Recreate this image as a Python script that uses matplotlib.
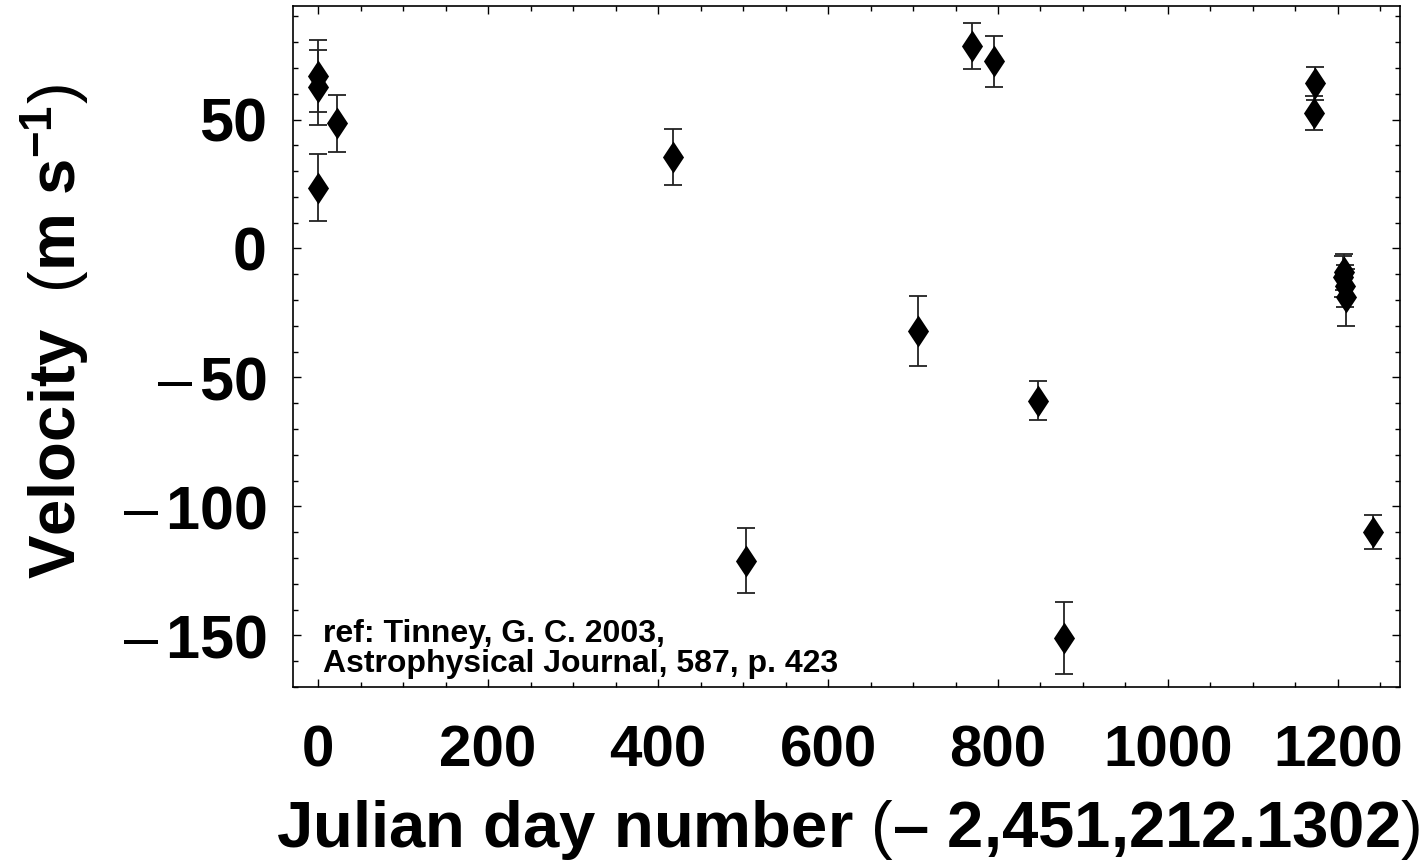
import matplotlib
matplotlib.use("Agg")
import matplotlib.pyplot as plt
from matplotlib.ticker import MultipleLocator, FixedLocator

# ---- data ----
days = [0, 0, 0, 22, 418, 503, 706, 770, 795, 847, 878,
        1172, 1173, 1207, 1206, 1208, 1210, 1241]
velocity = [67, 62.5, 23.5, 48.5, 35.5, -121, -32, 78.5, 72.5, -59, -151,
            52.5, 64, -9, -11, -14.5, -19, -110]
errors = [14, 14.5, 13, 11, 11, 12.5, 13.5, 9, 10, 7.5, 14,
          6.5, 6.5, 7, 8, 8, 11, 6.5]

x_ticks = [0, 200, 400, 600, 800, 1000, 1200]
x_tick_labels = ["0", "200", "400", "600", "800", "1000", "1200"]
y_ticks = [-150, -100, -50, 0, 50]
y_tick_labels = ["$\u2013\\,$150", "$\u2013\\,$100", "$\u2013\\,$50", "0", "50"]

ref_text = "ref: Tinney, G. C. 2003,\nAstrophysical Journal, 587, p. 423"
x_label = "Julian day number $($\u2013 2,451,212.1302$)$"
y_label = r"Velocity  $($m s$^{\mathbf{-1}}$$)$"

plt.rcParams["font.family"] = ["Liberation Sans", "DejaVu Sans"]
plt.rcParams["mathtext.fontset"] = "custom"
plt.rcParams["mathtext.rm"] = "Liberation Sans"
plt.rcParams["mathtext.it"] = "Liberation Sans"
plt.rcParams["mathtext.bf"] = "Liberation Sans:bold"

W, H = 1425, 866
fig = plt.figure(figsize=(W / 100, H / 100), dpi=100)
left, right, top, bottom = 293, 1400, 6, 687
ax = fig.add_axes([left / W, 1 - bottom / H, (right - left) / W, (bottom - top) / H])

# diamond marker (taller than wide)
diamond = [(0, 1), (0.66, 0), (0, -1), (-0.66, 0), (0, 1)]
ax.errorbar(days, velocity, yerr=errors, fmt="none", ecolor="#222222",
            elinewidth=1.3, capsize=6.5, capthick=1.3, zorder=2)
ax.plot(days, velocity, linestyle="none", marker=diamond, markersize=23,
        color="black", markeredgewidth=0, zorder=3)

ax.set_xlim(-29.5, 1273)
ax.set_ylim(-170, 94)

ax.xaxis.set_major_locator(FixedLocator(x_ticks))
ax.set_xticklabels(x_tick_labels)
ax.xaxis.set_minor_locator(MultipleLocator(50))
ax.yaxis.set_major_locator(FixedLocator(y_ticks))
ax.set_yticklabels(y_tick_labels)
ax.yaxis.set_minor_locator(MultipleLocator(10))

ax.tick_params(which="both", direction="in", top=True, right=True,
               color="black", width=1)
ax.tick_params(which="major", length=6)
ax.tick_params(which="minor", length=3.5)
ax.tick_params(axis="x", which="major", pad=27, labelsize=42)
ax.tick_params(axis="y", which="major", pad=19, labelsize=44)
for lab in ax.get_xticklabels() + ax.get_yticklabels():
    lab.set_fontweight("bold")
for sp in ax.spines.values():
    sp.set_linewidth(1.2)
    sp.set_color("black")

fig.text(323 / W, 1 - 649 / H, ref_text, fontsize=23,
         fontweight="bold", ha="left", va="center", linespacing=1.0)

fig.text(848 / W, 1 - 830 / H, x_label, fontsize=47, fontweight="bold",
         ha="center", va="center")
fig.text(55 / W, 1 - 332 / H, y_label, fontsize=47, fontweight="bold",
         ha="center", va="center", rotation=90)

fig.savefig("out.png", dpi=100)
